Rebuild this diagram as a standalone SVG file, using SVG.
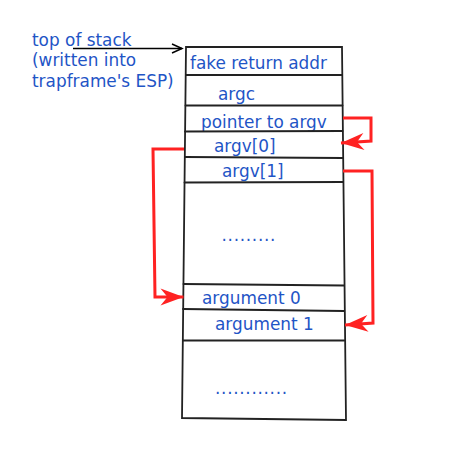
<svg xmlns="http://www.w3.org/2000/svg" width="461" height="468" viewBox="0 0 461 468">
<defs>
<style>
text{font-family:"DejaVu Sans","Verdana",sans-serif;font-size:16.9px;fill:#1f55c6}
.box{stroke:#222;stroke-width:1.8;fill:none;stroke-linecap:round}
.red{stroke:#ff2222;stroke-width:3;fill:none;stroke-linejoin:miter}
.blk{stroke:#000;stroke-width:1.5;fill:none}
.dots{letter-spacing:0.7px}
</style>
<marker id="rh" markerUnits="userSpaceOnUse" markerWidth="30" markerHeight="20" viewBox="-24 -10 26 20" refX="0" refY="0" orient="auto">
<path d="M0,0 L-23,-8.5 L-16,0 L-23,8.5 Z" fill="#ff2222"/>
</marker>
<marker id="bh" markerUnits="userSpaceOnUse" markerWidth="14" markerHeight="12" viewBox="-12 -6 14 12" refX="0" refY="0" orient="auto">
<path d="M-10,-4.5 L0,0 L-10,4.5" fill="none" stroke="#000" stroke-width="1.5"/>
</marker>
</defs>
<g id="label-top">
<text x="32" y="46">top of stack</text>
<text x="32" y="66">(written into</text>
<text x="32" y="87">trapframe's ESP)</text>
</g>
<g id="stack">
<path class="box" d="M186,47 L342,47 L346,420 L182,418 Z"/>
</g>
<g id="cell-fake">
<text x="190" y="69">fake return addr</text>
<line class="box" x1="186" y1="75" x2="342" y2="75"/>
</g>
<g id="cell-argc">
<text x="218" y="100">argc</text>
<line class="box" x1="185.5" y1="105.5" x2="342.5" y2="105.5"/>
</g>
<g id="cell-ptr">
<text x="201" y="127.5">pointer to argv</text>
<line class="box" x1="185" y1="131.5" x2="342.5" y2="131"/>
</g>
<g id="cell-argv0">
<text x="214" y="152">argv[0]</text>
<line class="box" x1="185" y1="157" x2="343" y2="158"/>
</g>
<g id="cell-argv1">
<text x="222" y="177">argv[1]</text>
<line class="box" x1="184.5" y1="182.5" x2="343" y2="182"/>
</g>
<g id="cell-dots1">
<text class="dots" x="221.5" y="241">.........</text>
<line class="box" x1="183.5" y1="284" x2="344" y2="285.5"/>
</g>
<g id="cell-arg0">
<text x="202" y="304">argument 0</text>
<line class="box" x1="183" y1="309" x2="344" y2="311"/>
</g>
<g id="cell-arg1">
<text x="215" y="329.5">argument 1</text>
<line class="box" x1="183" y1="340.5" x2="344.5" y2="340.5"/>
</g>
<g id="cell-dots2">
<text class="dots" x="215" y="394">............</text>
</g>
<g id="connectors">
<line class="blk" x1="73" y1="48.5" x2="182" y2="48.5" marker-end="url(#bh)"/>
<path class="red" d="M343,118 L371,118 L371,141 L341,143" marker-end="url(#rh)"/>
<path class="red" d="M184,149 L153,149 L155,297 L183.5,297" marker-end="url(#rh)"/>
<path class="red" d="M343,171 L372,171 L373,323 L345,325" marker-end="url(#rh)"/>
</g>
</svg>
